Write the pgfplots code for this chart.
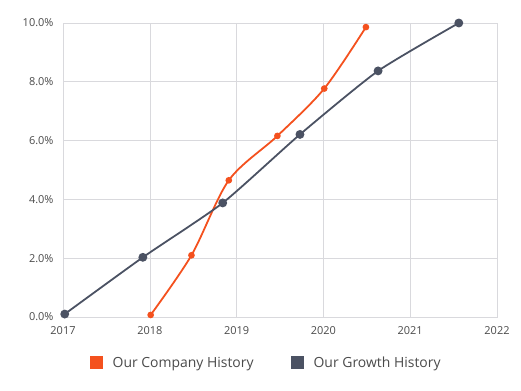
\documentclass[border=0pt]{standalone}
\usepackage{pgfplots}
\pgfplotsset{compat=1.18}
\usepackage{fontspec}
\setmainfont{Open Sans}
\definecolor{cOrange}{HTML}{F4511E}
\definecolor{cGray}{HTML}{4B5263}
\definecolor{cGrid}{HTML}{D9D9DD}
\definecolor{cText}{HTML}{4A4A4A}
\begin{document}
\begin{tikzpicture}
\begin{axis}[
  scale only axis,
  width=434bp, height=294bp,
  xmin=2017, xmax=2022, ymin=0, ymax=10,
  xtick={2017,2018,2019,2020,2021,2022},
  ytick={0,2,4,6,8,10},
  grid=major,
  grid style={cGrid, line width=0.6pt},
  axis line style={cGrid, line width=0.8pt},
  major tick length=0pt,
  tick label style={font=\fontsize{11}{13}\selectfont, text=cText},
  /pgf/number format/assume math mode=true,
  xticklabel={\pgfmathprintnumber[1000 sep={},fixed,precision=0]{\tick}},
  yticklabel={\pgfmathprintnumber[fixed,fixed zerofill,precision=1]{\tick}\%},
  xticklabel style={yshift=-6bp},
  yticklabel style={xshift=-6bp},
  legend columns=2,
  legend style={at={(0.468,-0.156)}, anchor=center, draw=none, fill=none,
    font=\fontsize{14}{16}\selectfont, text=cText,
    /tikz/every even column/.append style={column sep=35bp}},
  legend cell align=left,
  clip=false,
]
\addplot[cOrange, line width=1.8pt, smooth, tension=0.5, mark=*, mark size=2.4pt, mark options={fill=cOrange, draw=cOrange}, forget plot]
coordinates {(2018.01,0.07) (2018.48,2.1) (2018.91,4.65) (2019.47,6.16) (2020.01,7.77) (2020.49,9.86)};
\addplot[cGray, line width=1.8pt, smooth, tension=0.35, mark=*, mark size=3.5pt, mark options={fill=cGray, draw=cGray}, forget plot]
coordinates {(2017.02,0.1) (2017.92,2.03) (2018.84,3.88) (2019.73,6.21) (2020.63,8.37) (2021.56,10.0)};
\addlegendimage{legend image code/.code={\fill[cOrange,draw=none] (0bp,-6.5bp) rectangle (13bp,6.5bp); \path[draw=none,fill=none] (21bp,0bp);}}
\addlegendentry{Our Company History}
\addlegendimage{legend image code/.code={\fill[cGray,draw=none] (0bp,-6.5bp) rectangle (13bp,6.5bp); \path[draw=none,fill=none] (21bp,0bp);}}
\addlegendentry{Our Growth History}
\end{axis}
\path (0,0) ++(-63bp,-74bp) rectangle ++(521bp,391bp);
\end{tikzpicture}
\end{document}
